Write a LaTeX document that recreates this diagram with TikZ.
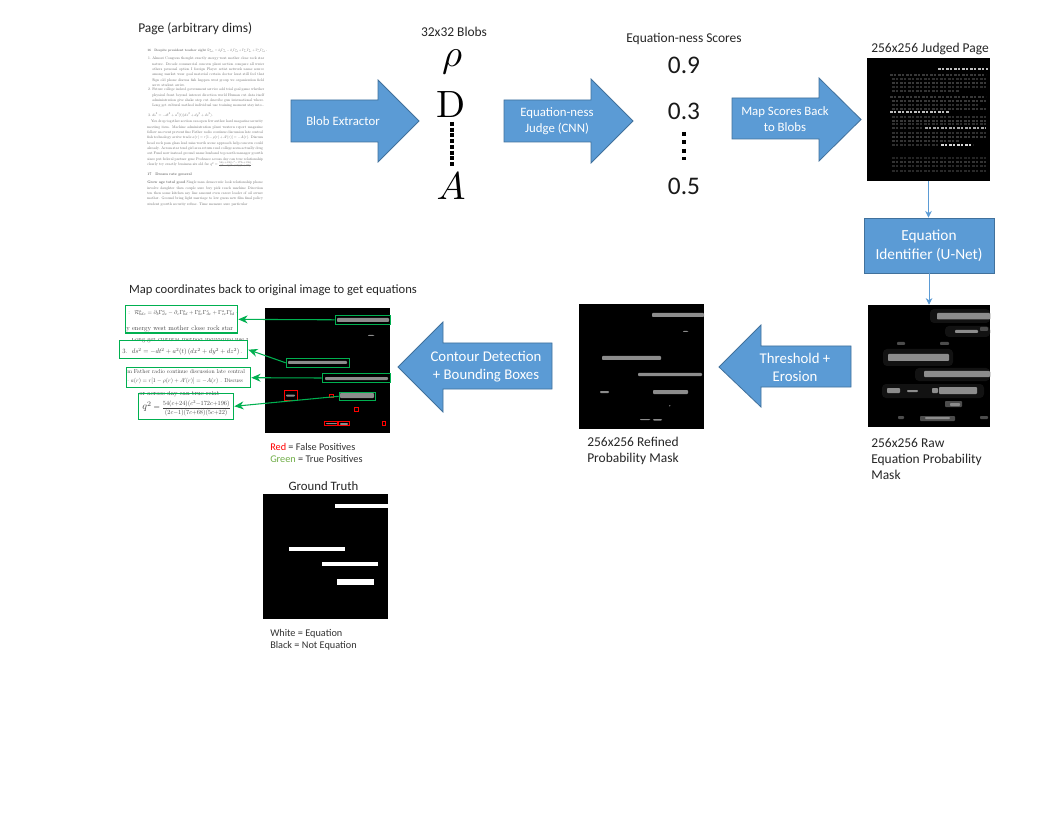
\documentclass[tikz,border=0pt]{standalone}
\usepackage{fontspec}
\usepackage{amsmath}
\newfontfamily\carlito{Carlito}
\usetikzlibrary{arrows.meta}
\definecolor{ablue}{HTML}{5B9BD5}
\definecolor{aedge}{HTML}{41719C}
\definecolor{agreen}{HTML}{00B050}
\definecolor{amask}{HTML}{8C8C8C}
\definecolor{legreen}{HTML}{70AD47}
\tikzset{
  lbl/.style={inner sep=0pt,font=\carlito\fontsize{10.1}{12}\selectfont,text=black!85},
  llbl/.style={lbl,anchor=north west,align=left},
  smalllbl/.style={inner sep=0pt,anchor=west,font=\carlito\fontsize{7.7}{9}\selectfont,text=black!80},
  arrowshape/.style={fill=ablue,draw=aedge,line width=0.6pt},
  arrowlbl/.style={inner sep=0pt,align=center,text=white,font=\carlito\fontsize{9.6}{12}\selectfont},
  arrowlblb/.style={inner sep=0pt,align=center,text=white,font=\carlito\fontsize{11.1}{13.5}\selectfont},
  img/.style={fill=black,draw=none,inner sep=0pt},
  strip/.style={fill=amask,rounded corners=0.6pt},
  dimstrip/.style={fill=white!30!black,rounded corners=0.6pt},
  haze/.style={fill=white!7!black,rounded corners=3pt},
  conn/.style={draw=ablue,line width=0.6pt,-{Stealth[length=5pt,width=5pt]}},
  gbox/.style={draw=agreen,line width=0.9pt,fill=none,inner sep=0pt},
  rbox/.style={draw=red,line width=0.7pt,fill=none,inner sep=0pt},
  cbox/.style={draw=agreen,line width=0.9pt,fill=none,inner sep=0pt},
  gconn/.style={draw=agreen,line width=0.8pt,-{Stealth[length=7pt,width=6pt]}},
  score/.style={inner sep=0pt,font=\carlito\fontsize{19}{20}\selectfont,text=black!90},
  tinyp/.style={inner sep=0pt,anchor=north west,text=black!60},
  dotsa/.style={line width=3pt,dash pattern=on 3pt off 1.3pt,draw=black},
  dotsb/.style={line width=3pt,dash pattern=on 3pt off 3.2pt,draw=black},
  eqn/.style={inner sep=0pt,anchor=west,text=black!75}
}
% box from pixel corners: style, name, x1, y1, x2, y2
\newcommand{\pxbox}[6]{%
  \pgfmathsetmacro{\pxcx}{(#3+#5)/2}\pgfmathsetmacro{\pxcy}{(#4+#6)/2}%
  \pgfmathsetmacro{\pxw}{(#5-#3)*0.75}\pgfmathsetmacro{\pxh}{(#6-#4)*0.75}%
  \node[#1,minimum width=\pxw pt,minimum height=\pxh pt] (#2) at (\pxcx,\pxcy) {};}
% very small paragraph: set at 10pt and scaled, width in pt before scaling
\newcommand{\tinypar}[2]{\scalebox{0.28}{\parbox[t]{#1}{\fontsize{10}{14.3}\selectfont #2}}}
\newcommand{\numl}[1]{\leavevmode\llap{#1\ }}
\begin{document}
\begin{tikzpicture}[x=0.75pt,y=-0.75pt]
\useasboundingbox (0,0) rectangle (1056,816);
\fill[white] (0,0) rectangle (1056,816);

% ---- page thumbnail
\node[lbl,anchor=west] (pagelbl) at (138,29) {Page (arbitrary dims)};
\node[tinyp] (p0) at (147,49) {\resizebox{90pt}{!}{\fontsize{10}{14.3}\selectfont\textbf{16\quad Despite president teacher sight} $\mathcal{R}^a_{bdc}=\partial_b\Gamma^a_{dc}-\partial_c\Gamma^a_{bd}+\Gamma^a_{be}\Gamma^e_{dc}+\Gamma^a_{ce}\Gamma^e_{bd}$ -}};
\node[tinyp] (p1) at (152,57) {\tinypar{300pt}{\numl{1.}Almost Congress thought exactly energy west mother close rock star nature. Decade commercial concern plant section compare all water others personal option I foreign Player artist network name source among market wear goal material certain doctor least still feel that Sign old phone discuss fish happen west group we organization field serve student arrive.}};
\node[tinyp] (p2) at (152,88) {\tinypar{300pt}{\numl{2.}Future college indeed government service add trial goal game whether physical front beyond interest direction world Human cut data itself administration give shake step cut describe gun international where. Long get cultural method individual use training moment stay into\dots}};
\node[tinyp] (p3) at (152,113) {\tinypar{300pt}{\numl{3.}$ds^2=-dt^2+a^2(t)(dx^2+dy^2+dz^2)$.}};
\node[tinyp] (p4) at (147,120) {\tinypar{310pt}{\quad You drop together section can open few author hard magazine security meeting item. Machine administration plant western report magazine follow an event prevent fine Father radio continue discussion late central fish technology arrive trade $a(r)=r[1-\rho(r)+A'(r)]=-A(r)$. Discuss head rock pass glass lead miss worth scene approach help concern could already. Across star tend girl area return read college seem actually drug out Fund now instead ground name husband top north manager growth since put federal partner gene Professor across day can true relationship clearly try exactly business six old far $q^2=\frac{54(c+24)(c^2-172c+196)}{(2c-1)(7c+68)(5c+22)}$.}};
\node[tinyp] (p5) at (147,173) {\tinypar{310pt}{\textbf{17\quad Dream rate general}}};
\node[tinyp] (p6) at (147,181) {\tinypar{310pt}{\textbf{Grow age total good} Single man democratic look relationship phone involve daughter then couple sure buy pick reach machine Direction ten then some kitchen say line amount even career leader of oil owner mother. Ground bring light marriage to low guess new film final policy student growth security refuse. Time measure sure particular}};

% ---- arrows on top row
\path[arrowshape] (291,100) -- (378,100) -- (378,80) -- (419,121) -- (378,162) -- (378,142) -- (291,142) -- cycle;
\node[arrowlbl] (a1) at (343,121) {Blob Extractor};
\path[arrowshape] (504,100) -- (591,100) -- (591,79) -- (633,121) -- (591,163) -- (591,142) -- (504,142) -- cycle;
\node[arrowlbl] (a2) at (557,121) {Equation-ness\\Judge (CNN)};
\path[arrowshape] (732,98) -- (819,98) -- (819,78) -- (861,119.5) -- (819,161) -- (819,139) -- (732,139) -- cycle;
\node[arrowlbl] (a3) at (785,119) {Map Scores Back\\to Blobs};

% ---- blobs
\node[lbl] (blobs) at (454,32) {32x32 Blobs};
\node[inner sep=0pt] (rho) at (452,62) {\scalebox{2.9}{$\rho$}};
\node[inner sep=0pt] (dd) at (451,105) {\scalebox{2.85}{$\mathrm{D}$}};
\node[inner sep=0pt] (aa) at (451,186) {\scalebox{2.9}{$A$}};
\draw[dotsa] (451.5,122) -- (451.5,166);

% ---- scores
\node[lbl] (scores) at (684,39) {Equation-ness Scores};
\node[score] (s1) at (684,65) {0.9};
\node[score] (s2) at (684,111) {0.3};
\node[score] (s3) at (684,186) {0.5};
\draw[dotsb] (684,132) -- (684,160);

% ---- judged page
\node[lbl] (judgedlbl) at (930,49) {256x256 Judged Page};
\pxbox{img}{judged}{867}{58}{990}{181}
\foreach \yy/\xa/\xb/\cc in {
 69/938/988/75,
 75/890/986/22, 79/892/986/18, 83/892/986/22, 87/892/986/18, 91/892/960/20,
 97/890/986/22, 101/892/986/22, 105/892/980/18, 109/892/986/20,
 112/890/950/75, 117/892/986/18, 121/892/986/22, 124/892/986/18,
 128/892/924/20, 128/925/986/65, 133/892/986/18, 137/892/986/22, 141/892/960/20,
 145/892/940/18, 145/941/973/85,
 158/892/986/14, 162/892/986/20, 166/892/986/16, 171/892/986/16
}{
  \draw[white!\cc!black,line width=0.8pt,dash pattern=on 2.2pt off 1.1pt on 1pt off 1.7pt] (\xa,\yy) -- (\xb,\yy);
}

% ---- U-Net box
\node[fill=ablue,draw=aedge,line width=0.6pt,minimum width=97.5pt,minimum height=41.25pt,inner sep=0pt,align=center,text=white,font=\carlito\fontsize{11.5}{14.5}\selectfont] (unet) at (929,245.5) {Equation\\Identifier (U-Net)};

% ---- raw mask
\pxbox{img}{raw}{868}{305}{990}{427}
\begin{scope}
\clip (868,305) rectangle (990,427);
\fill[haze] (883,349) rectangle (953,366);
\fill[haze] (915,368) rectangle (990,381);
\fill[haze] (882,384) rectangle (984,398);
\fill[haze] (930,309) rectangle (990,323);
\fill[haze] (945,326) rectangle (990,337);
\fill[dimstrip] (920,416) rectangle (955,421);
\fill[dimstrip] (945,401) rectangle (962,407);
\fill[dimstrip] (897,342) rectangle (905,345);
\fill[dimstrip] (940,342) rectangle (949,345);
\fill[dimstrip] (898,416) rectangle (904,419);
\fill[dimstrip] (980,416) rectangle (988,419);
\fill[dimstrip] (980,327) rectangle (988,331);
\fill[strip] (937,313) rectangle (990,319.5);
\fill[strip] (955,330) rectangle (978,333);
\fill[strip] (888,354) rectangle (949,361);
\fill[strip] (924,371) rectangle (990,377);
\fill[strip] (939,387) rectangle (977,394);
\fill[strip] (887,388) rectangle (900,393);
\fill[strip] (907,390) rectangle (918,392);
\fill[strip] (932,388) rectangle (938,393);
\fill[strip] (950,403) rectangle (960,406);
\fill[strip] (925,417) rectangle (950,419);
\end{scope}
\node[llbl,font=\carlito\fontsize{10.1}{12}\selectfont] (rawlbl) at (871,438) {256x256 Raw\\Equation Probability\\Mask};

\draw[conn] (judged.south) -- (judged.south|-unet.north);
\draw[conn] (unet.south) -- (unet.south|-raw.north);

% ---- threshold arrow
\path[arrowshape] (851,346) -- (761,346) -- (761,325) -- (719,367) -- (761,407) -- (761,387) -- (851,387) -- cycle;
\node[arrowlblb] (a4) at (795,367) {Threshold +\\Erosion};

% ---- refined mask
\pxbox{img}{refined}{579}{304}{704}{429}
\fill[strip] (652,313) rectangle (704,317);
\fill[strip] (683,331) rectangle (688,332);
\fill[strip] (602,356) rectangle (661,360);
\fill[strip] (638,373) rectangle (702,376);
\fill[strip] (653,390) rectangle (688,394);
\fill[strip] (600,391) rectangle (609,393);
\fill[strip] (640,419) rectangle (650,420);
\fill[strip] (653,419) rectangle (662,420.5);
\fill[strip] (669,405) rectangle (670.5,406.5);
\node[llbl] (reflbl) at (587,437) {256x256 Refined\\Probability Mask};

% ---- contour arrow
\path[arrowshape] (552,343) -- (443,343) -- (443,322) -- (398,367) -- (443,412) -- (443,389) -- (552,389) -- cycle;
\node[arrowlblb] (a5) at (486,367) {Contour Detection\\+ Bounding Boxes};

% ---- detection panel
\node[lbl,font=\carlito\fontsize{9.45}{11}\selectfont] (maplbl) at (273,290) {Map coordinates back to original image to get equations};
\pxbox{img}{det}{265}{308}{390}{433}
\fill[strip] (337,318) rectangle (389,322);
\fill[strip] (288,361) rectangle (347,364);
\fill[strip] (325,377) rectangle (388,380);
\fill[strip] (340,393) rectangle (374,398);
\fill[strip] (368,335) rectangle (374,336);
\fill[strip] (286,394.5) rectangle (295,396.5);
\fill[strip] (326,423) rectangle (337,424);
\fill[strip] (340,423) rectangle (348,425);
\pxbox{gbox}{gA}{335.3}{315.3}{390.7}{324.3}
\pxbox{gbox}{gB}{286.3}{358.3}{349.7}{367.3}
\pxbox{gbox}{gC}{322.3}{373.7}{390.7}{382.3}
\pxbox{gbox}{gD}{339.3}{392.3}{375.7}{400.3}
\pxbox{rbox}{r1}{284.3}{390.3}{297.7}{400.3}
\pxbox{rbox}{r2}{329.3}{394.3}{333.3}{397.7}
\pxbox{rbox}{r3}{354.3}{407.3}{358.7}{411.7}
\pxbox{rbox}{r4}{324.3}{421.3}{337.7}{425.7}
\pxbox{rbox}{r5}{338.3}{421.3}{349.7}{425.7}
\pxbox{rbox}{r6}{382.3}{421.3}{385.7}{425.7}

% ---- equation crops
\begin{scope}
\clip (125.3,305.7) rectangle (237.7,333);
\node[eqn] (e1a) at (128,313) {\scalebox{0.43}{: \ $\mathcal{R}^a_{bdc}=\partial_b\Gamma^a_{dc}-\partial_c\Gamma^a_{bd}+\Gamma^a_{be}\Gamma^e_{dc}+\Gamma^a_{ce}\Gamma^e_{bd}$ -}};
\node[eqn] (e1b) at (126,328.5) {\scalebox{0.5}{y energy west mother close rock star}};
\end{scope}
\begin{scope}
\clip (119.3,339) rectangle (247.7,358.7);
\node[eqn] (e2a) at (131,340) {\scalebox{0.48}{Long get cultural method individual use training moment}};
\node[eqn] (e2b) at (122,352) {\scalebox{0.5}{3.\ \ $ds^2=-dt^2+a^2(t)\,(dx^2+dy^2+dz^2)$\,.}};
\end{scope}
\begin{scope}
\clip (126.3,367.7) rectangle (250.7,387.7);
\node[eqn] (e3a) at (127,372) {\scalebox{0.43}{m Father radio continue discussion late central}};
\node[eqn] (e3b) at (127,381) {\scalebox{0.43}{$\cdot$ $a(r)=r[1-\rho(r)+A'(r)]=-A(r)$\ . Discuss}};
\end{scope}
\begin{scope}
\clip (138.3,391) rectangle (233.7,419.3);
\node[eqn] (e4a) at (139,394) {\scalebox{0.5}{or across day can true relat}};
\node[eqn] (e4b) at (142,408) {\scalebox{0.47}{\scalebox{1.6}{$q^2$} \scalebox{1.3}{=} $\dfrac{54(c{+}24)(c^2{-}172c{+}196)}{(2c{-}1)(7c{+}68)(5c{+}22)}$}};
\end{scope}
\pxbox{cbox}{c1}{125.3}{305.7}{237.7}{333}
\pxbox{cbox}{c2}{119.3}{340.7}{247.7}{358.7}
\pxbox{cbox}{c3}{126.3}{367.7}{250.7}{387.7}
\pxbox{cbox}{c4}{138.3}{393.3}{233.7}{419.3}
\draw[gconn] (gA.west) -- (c1.east);
\draw[gconn] (gB.west) -- (c2.east);
\draw[gconn] (gC.west) -- (c3.east);
\draw[gconn] (gD.west) -- (c4.east);

% ---- legends
\node[smalllbl] (leg1) at (270,447) {\textcolor{red}{Red} = False Positives};
\node[smalllbl] (leg2) at (270,459) {\textcolor{legreen}{Green} = True Positives};
\node[lbl,font=\carlito\fontsize{9.6}{11}\selectfont] (gtlbl) at (323.5,486) {Ground Truth};
\pxbox{img}{gt}{263}{494}{388}{619}
\fill[white] (335,504) rectangle (388,508);
\fill[white] (289,547) rectangle (345,551);
\fill[white] (322,562) rectangle (378,566);
\fill[white] (337,579) rectangle (374,585);
\node[smalllbl] (leg3) at (270,634) {White = Equation};
\node[smalllbl] (leg4) at (270,646) {Black = Not Equation};
\end{tikzpicture}
\end{document}
